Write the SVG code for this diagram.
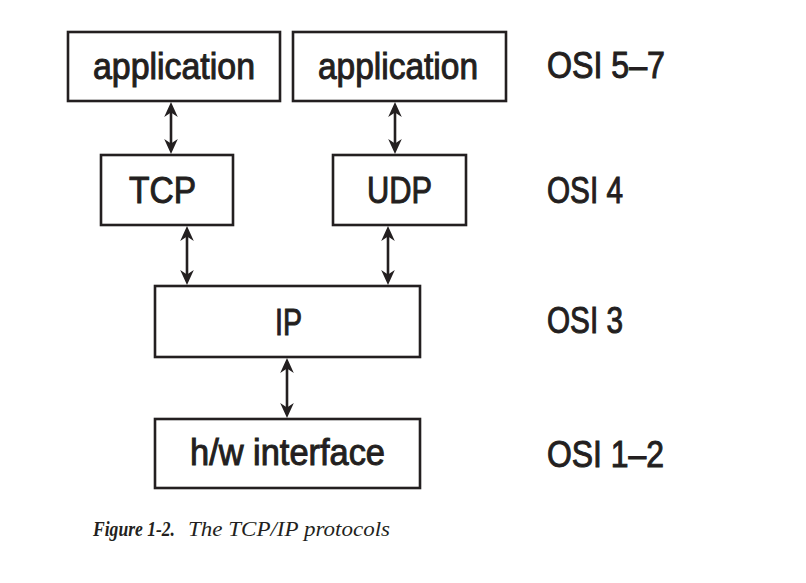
<svg xmlns="http://www.w3.org/2000/svg" width="806" height="583" viewBox="0 0 806 583">
<style>
.box{fill:#fff;stroke:#231f20;stroke-width:2.6}
.lbl{font-family:"Liberation Sans",Arial,sans-serif;font-size:36px;fill:#231f20;stroke:#231f20;stroke-width:1}
.osi{font-family:"Liberation Sans",Arial,sans-serif;font-size:36px;fill:#231f20;stroke:#231f20;stroke-width:1}
.con{stroke:#231f20;stroke-width:2.6;fill:none;marker-start:url(#ah);marker-end:url(#ah)}
.cap{font-family:"Liberation Serif","Times New Roman",serif;font-size:21px;fill:#231f20;font-style:italic}
</style>
<defs>
<marker id="ah" markerUnits="userSpaceOnUse" viewBox="0 -7 15 14" refX="11" refY="0" markerWidth="15" markerHeight="14" orient="auto-start-reverse">
<path d="M15,0 L0,-6.8 L4.5,0 L0,6.8 Z" fill="#231f20"/>
</marker>
</defs>
<rect width="806" height="583" fill="#fff"/>
<g id="connectors">
<line class="con" x1="171" y1="106" x2="171" y2="150"/>
<line class="con" x1="395" y1="106" x2="395" y2="150"/>
<line class="con" x1="187" y1="230" x2="187" y2="281"/>
<line class="con" x1="388" y1="230" x2="388" y2="281"/>
<line class="con" x1="287" y1="362" x2="287" y2="414"/>
</g>
<g id="app1"><rect class="box" x="68" y="32" width="212" height="69"/><text class="lbl" x="93" y="79" textLength="162" lengthAdjust="spacingAndGlyphs">application</text></g>
<g id="app2"><rect class="box" x="293" y="32" width="213" height="69"/><text class="lbl" x="318" y="79" textLength="160" lengthAdjust="spacingAndGlyphs">application</text></g>
<g id="tcp"><rect class="box" x="101" y="155" width="132" height="70"/><text class="lbl" x="129" y="203" textLength="67" lengthAdjust="spacingAndGlyphs">TCP</text></g>
<g id="udp"><rect class="box" x="333" y="155" width="133" height="70"/><text class="lbl" x="367" y="203" textLength="65" lengthAdjust="spacingAndGlyphs">UDP</text></g>
<g id="ip"><rect class="box" x="155" y="286" width="265" height="71"/><text class="lbl" x="275" y="335" textLength="27" lengthAdjust="spacingAndGlyphs">IP</text></g>
<g id="hw"><rect class="box" x="155" y="419" width="265" height="69"/><text class="lbl" x="190" y="465" textLength="195" lengthAdjust="spacingAndGlyphs">h/w interface</text></g>
<g id="osi">
<text class="osi" x="547" y="78" textLength="118" lengthAdjust="spacingAndGlyphs">OSI 5–7</text>
<text class="osi" x="547" y="203" textLength="76" lengthAdjust="spacingAndGlyphs">OSI 4</text>
<text class="osi" x="547" y="333" textLength="76" lengthAdjust="spacingAndGlyphs">OSI 3</text>
<text class="osi" x="547" y="467" textLength="117" lengthAdjust="spacingAndGlyphs">OSI 1–2</text>
</g>
<g id="caption">
<text class="cap" x="93" y="536" font-weight="bold" textLength="82" lengthAdjust="spacingAndGlyphs">Figure 1-2.</text>
<text class="cap" x="188" y="536" textLength="202" lengthAdjust="spacingAndGlyphs">The TCP/IP protocols</text>
</g>
</svg>
